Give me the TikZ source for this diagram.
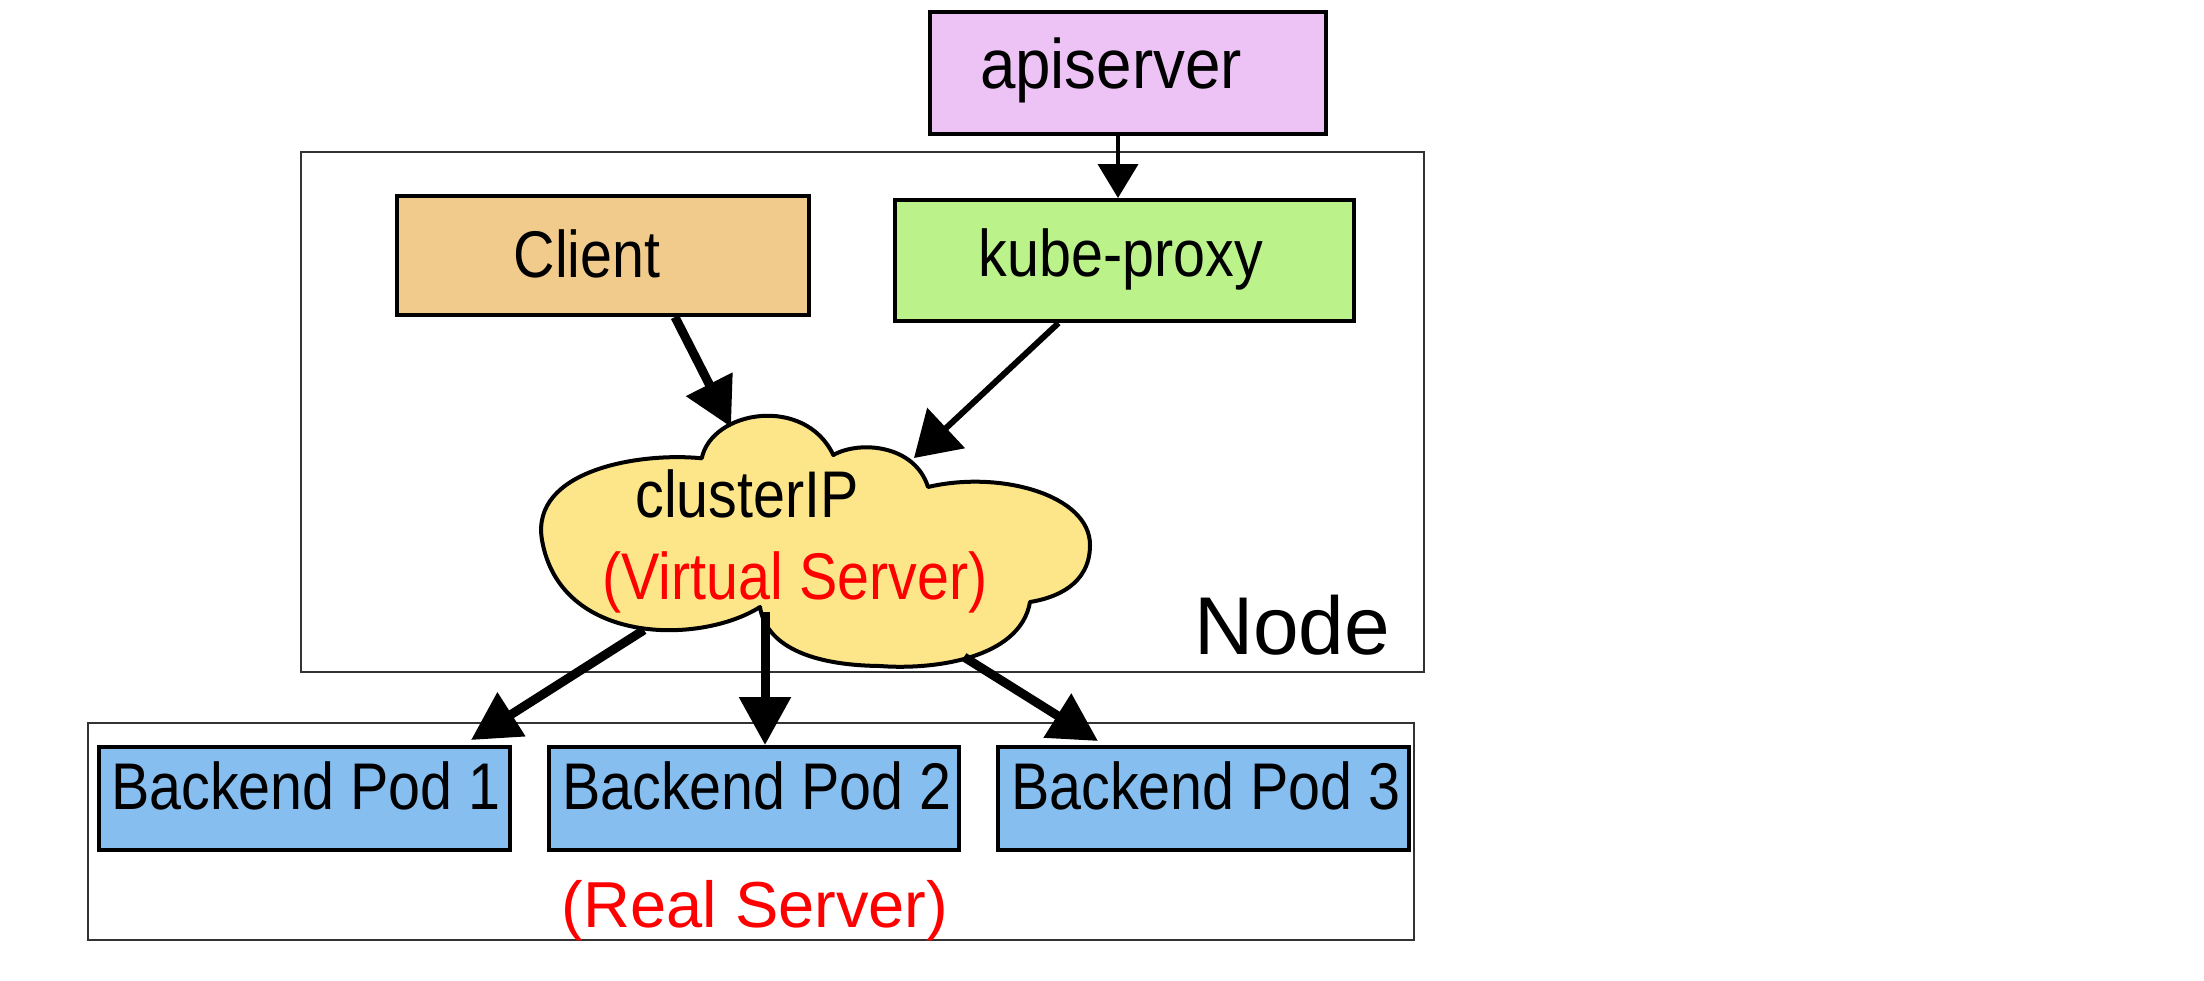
\documentclass[tikz,border=0pt]{standalone}
\usepackage{fontspec}
\setmainfont{Liberation Sans}
\newfontfamily\labfont[FakeStretch=0.87]{Liberation Sans}
\newfontfamily\apifont[FakeStretch=0.91]{Liberation Sans}
\usetikzlibrary{arrows.meta}
\definecolor{apicol}{HTML}{EDC2F5}
\definecolor{clientcol}{HTML}{F0CB8B}
\definecolor{kpcol}{HTML}{BCF28A}
\definecolor{cloudcol}{HTML}{FDE68A}
\definecolor{podcol}{HTML}{86BEF0}
\definecolor{framecol}{HTML}{333333}
\definecolor{redtxt}{HTML}{FF0000}
\tikzset{
  box/.style={draw=black, line width=2pt, inner sep=0pt, anchor=north west},
  frame/.style={draw=framecol, line width=1pt, inner sep=0pt, anchor=north west},
  lab/.style={anchor=base, inner sep=0pt, font=\labfont\fontsize{33pt}{36pt}\selectfont},
  apilab/.style={anchor=base, inner sep=0pt, font=\apifont\fontsize{35pt}{38pt}\selectfont},
  plainlab/.style={anchor=base, inner sep=0pt},
  bigarrow/.style={line width=4.5pt, -{Triangle[length=24pt,width=25pt]}},
  midarrow/.style={line width=3pt, -{Triangle[length=22pt,width=27pt]}},
  smallarrow/.style={line width=2pt, -{Triangle[length=17pt,width=20pt]}},
}
\begin{document}
\begin{tikzpicture}[x=0.5pt,y=-0.5pt]
\useasboundingbox[fill=white] (0,0) rectangle (2204,980);

% frames
\node[frame, minimum width=561.5pt, minimum height=260pt] (nodebox) at (300,151) {};
\node[frame, minimum width=663pt, minimum height=108.5pt] (realbox) at (87,722) {};

% boxes
\node[box, fill=apicol, minimum width=198pt, minimum height=61pt] (api) at (928,10) {};
\node[box, fill=clientcol, minimum width=206pt, minimum height=59.5pt] (client) at (395,194) {};
\node[box, fill=kpcol, minimum width=229.5pt, minimum height=60.5pt] (kp) at (893,198) {};
\node[box, fill=podcol, minimum width=205.5pt, minimum height=51.5pt] (pod1) at (97,745) {};
\node[box, fill=podcol, minimum width=205pt, minimum height=51.5pt] (pod2) at (547,745) {};
\node[box, fill=podcol, minimum width=205.5pt, minimum height=51.5pt] (pod3) at (996,745) {};

% cloud
\filldraw[fill=cloudcol, draw=black, line width=2pt, line join=round]
  (701.7,458.3) .. controls (712,410) and (805,395) .. (833.3,455)
  .. controls (860,440) and (915,445) .. (928,487)
  .. controls (1000,470) and (1090,495) .. (1090,545)
  .. controls (1090,585) and (1055,598) .. (1030,602)
  .. controls (1020,660) and (930,670) .. (880,666)
  .. controls (800,665) and (765,640) .. (760,607)
  .. controls (700,645) and (560,645) .. (542,540)
  .. controls (530,470) and (640,452) .. (701.7,458.3)
  -- cycle;

\coordinate (clIn) at (731,427);
\coordinate (kpIn) at (914,458);
\coordinate (clP1) at (644,630);
\coordinate (clP2) at (765,612);
\coordinate (clP3) at (964,657);

% texts
\node[apilab] (apit) at (1111,88) {apiserver};
\node[lab] (clientt) at (587,277) {Client};
\node[lab] (kpt) at (1121,276) {kube-proxy};
\node[lab] (clt) at (747,517) {clusterIP};
\node[lab, text=redtxt] (vst) at (795,599) {(Virtual Server)};
\node[plainlab, font=\fontsize{41pt}{44pt}\selectfont] (nodet) at (1292,654) {Node};
\node[lab] (pod1t) at (306,809) {Backend Pod 1};
\node[lab] (pod2t) at (757,809) {Backend Pod 2};
\node[lab] (pod3t) at (1206,809) {Backend Pod 3};
\node[plainlab, text=redtxt, font=\fontsize{32.5pt}{36pt}\selectfont] (rst) at (755,927) {(Real Server)};

% connectors
\draw[smallarrow] ([xshift=-5pt]api.south) -- ([xshift=-5pt]api.south |- kp.north);
\draw[bigarrow] ([xshift=36pt]client.south) -- (clIn);
\draw[midarrow] ([xshift=-33pt]kp.south) -- (kpIn);
\draw[bigarrow] (clP1) -- ([xshift=83.25pt,yshift=2.5pt]pod1.north);
\draw[bigarrow] (clP2) -- (clP2 |- pod2.north);
\draw[bigarrow] (clP3) -- ([xshift=-52.75pt,yshift=2pt]pod3.north);
\end{tikzpicture}
\end{document}
